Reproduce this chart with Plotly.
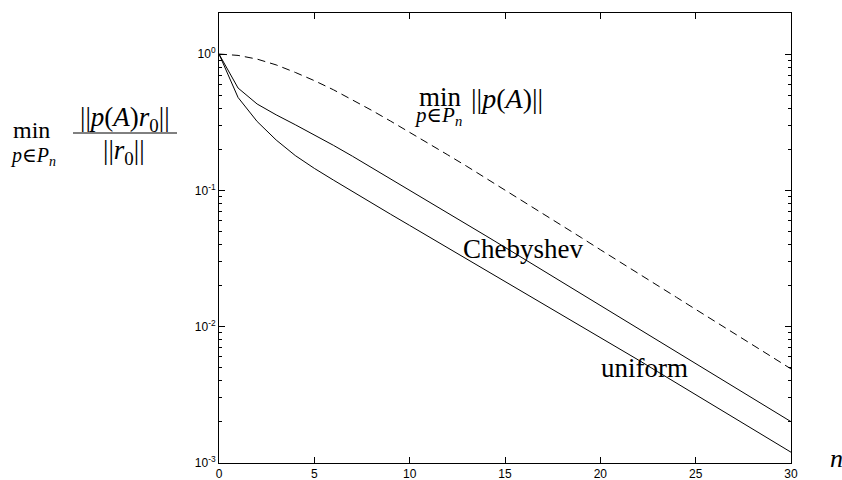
import plotly.graph_objects as go

# ---- data ----
n_values = list(range(0, 31))

chebyshev = [1.0, 0.563, 0.430, 0.358, 0.303, 0.256, 0.214, 0.178, 0.147, 0.122,
             0.101, 0.0832, 0.0685, 0.0564, 0.0464, 0.0382, 0.0314, 0.0258, 0.0212,
             0.0175, 0.0144, 0.0118, 0.00969, 0.00796, 0.00654, 0.00538, 0.00442,
             0.00363, 0.00298, 0.00245, 0.00201]

uniform = [1.0, 0.48, 0.32, 0.234, 0.18, 0.145, 0.119, 0.0977, 0.0807, 0.0668,
           0.0553, 0.0458, 0.0379, 0.0314, 0.0260, 0.0215, 0.0178, 0.0148, 0.0122,
           0.0101, 0.00838, 0.00690, 0.00569, 0.00468, 0.00385, 0.00317, 0.00261,
           0.00215, 0.00177, 0.00146, 0.00120]

min_norm_pA = [1.0, 0.977, 0.918, 0.832, 0.733, 0.638, 0.547, 0.462, 0.387, 0.322,
               0.267, 0.220, 0.182, 0.150, 0.123, 0.101, 0.0822, 0.0673, 0.0550,
               0.0450, 0.0367, 0.0301, 0.0245, 0.0201, 0.0164, 0.0134, 0.0110,
               0.00897, 0.00733, 0.00600, 0.00490]

x_ticks = [0, 5, 10, 15, 20, 25, 30]
y_tickvals = [1, 0.1, 0.01, 0.001]
y_ticktext = ["10<sup>0</sup>", "10<sup>-1</sup>", "10<sup>-2</sup>", "10<sup>-3</sup>"]

# ---- layout geometry (pixels) ----
W, H = 842, 480
L, R, T, B = 219, 791, 13, 463


def px(xp):
    return (xp - L) / (R - L)


def py(yp):
    return (B - yp) / (B - T)


SERIF = "Liberation Serif, Times New Roman, DejaVu Serif, serif"
SANS = "Liberation Sans, Arial, Helvetica, sans-serif"

fig = go.Figure()
fig.add_trace(go.Scatter(x=n_values, y=min_norm_pA, mode="lines",
                         line=dict(color="black", width=1, dash="8px,5px"),
                         showlegend=False, hoverinfo="skip"))
fig.add_trace(go.Scatter(x=n_values, y=chebyshev, mode="lines",
                         line=dict(color="black", width=1),
                         showlegend=False, hoverinfo="skip"))
fig.add_trace(go.Scatter(x=n_values, y=uniform, mode="lines",
                         line=dict(color="black", width=1),
                         showlegend=False, hoverinfo="skip"))

axis_common = dict(showgrid=False, zeroline=False, showline=True, linecolor="black",
                   linewidth=1, ticks="inside", ticklen=6, tickcolor="black",
                   tickwidth=1, mirror="allticks", automargin=False,
                   tickfont=dict(family=SANS, size=12, color="black"))

fig.update_xaxes(range=[0, 30], tickvals=x_ticks, ticktext=[str(v) for v in x_ticks],
                 tickmode="array", **axis_common)
fig.update_yaxes(type="log", range=[-3, 0.301], tickmode="array", tickvals=y_tickvals,
                 ticktext=y_ticktext,
                 minor=dict(ticks="inside", ticklen=3, tickcolor="black", tickwidth=1,
                            dtick="D1", showgrid=False),
                 **axis_common)

ann = []


def add_text(text, xp, yp, size, xanchor="center", yanchor="middle"):
    ann.append(dict(text=text, x=px(xp), y=py(yp), xref="paper", yref="paper",
                    showarrow=False, xanchor=xanchor, yanchor=yanchor,
                    font=dict(family=SERIF, size=size, color="black")))


# left y-label
add_text("min", 31, 130, 24)
add_text("<i>p</i>∈<i>P<sub>n</sub></i>", 33, 156, 20)
add_text("||<i>p</i>(<i>A</i>)<i>r</i><sub>0</sub>||", 125, 119, 27)
add_text("||<i>r</i><sub>0</sub>||", 124, 152, 27)

# middle label
add_text("min", 440, 97, 27)
add_text("<i>p</i>∈<i>P<sub>n</sub></i>", 438, 116, 21)
add_text("||<i>p</i>(<i>A</i>)||", 507, 98, 28)

# curve labels
add_text("Chebyshev", 523, 249, 27)
add_text("uniform", 644, 368, 27)

# x-label
add_text("<i>n</i>", 836, 458, 26)

fig.update_layout(
    width=W, height=H,
    margin=dict(l=L, r=W - R, t=T, b=H - B, pad=0),
    paper_bgcolor="white", plot_bgcolor="white",
    annotations=ann,
    shapes=[dict(type="line", xref="paper", yref="paper",
                 x0=px(73), x1=px(177), y0=py(133), y1=py(133),
                 line=dict(color="black", width=1))],
    showlegend=False,
)

fig.write_html("out.html")
